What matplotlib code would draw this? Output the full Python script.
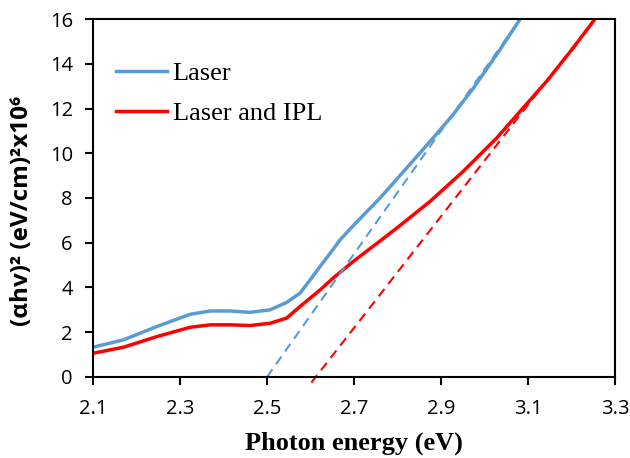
import matplotlib
matplotlib.use("Agg")
import matplotlib.pyplot as plt

# Laser (blue curve)
laser_x = [2.10, 2.17, 2.246, 2.323, 2.369, 2.415, 2.461, 2.507, 2.545, 2.576, 2.60, 2.622,
           2.65, 2.668, 2.70, 2.73, 2.76, 2.821, 2.875, 2.928, 2.974, 3.028, 3.082]
laser_y = [1.33, 1.66, 2.25, 2.80, 2.95, 2.95, 2.89, 3.00, 3.33, 3.75, 4.36, 4.94,
           5.65, 6.13, 6.80, 7.40, 8.00, 9.34, 10.53, 11.73, 12.90, 14.41, 16.0]

# Laser and IPL (red curve)
ipl_x = [2.10, 2.17, 2.246, 2.323, 2.369, 2.415, 2.461, 2.507, 2.545, 2.576, 2.622, 2.652,
         2.698, 2.76, 2.80, 2.875, 2.951, 3.028, 3.089, 3.143, 3.204, 3.254]
ipl_y = [1.06, 1.33, 1.80, 2.22, 2.33, 2.33, 2.30, 2.40, 2.63, 3.15, 3.89, 4.42,
         5.16, 6.08, 6.68, 7.85, 9.19, 10.68, 12.03, 13.22, 14.71, 16.0]

# linear fits (Tauc extrapolation)
laser_fit_x = [2.50, 3.082]
laser_fit_y = [0.0, 16.0]
ipl_fit_x = [2.602, 3.254]
ipl_fit_y = [-0.25, 16.0]

xticks = [2.1, 2.3, 2.5, 2.7, 2.9, 3.1, 3.3]
yticks = [0, 2, 4, 6, 8, 10, 12, 14, 16]

blue = "#5B9BD5"
red = "#FF0000"

fig = plt.figure(figsize=(6.3, 4.58), dpi=100)
ax = fig.add_axes([0.1476, 0.1769, 0.8286, 0.7816])

ax.plot(laser_x, laser_y, color=blue, lw=2.5, label="Laser")
ax.plot(ipl_x, ipl_y, color=red, lw=2.5, label="Laser and IPL")
ax.plot(laser_fit_x, laser_fit_y, color=blue, lw=1.5, dashes=(4.5, 3), clip_on=False)
ax.plot(ipl_fit_x, ipl_fit_y, color=red, lw=1.5, dashes=(4.5, 3), clip_on=False)

ax.set_xlim(2.1, 3.3)
ax.set_ylim(0, 16)
ax.set_xticks(xticks)
ax.set_xticklabels([f"{v:.1f}" for v in xticks])
ax.set_yticks(yticks)

for s in ax.spines.values():
    s.set_linewidth(1.5)
ax.tick_params(direction="out", length=5.5, width=1.5, labelsize=14.5)
ax.tick_params(axis="x", pad=10)
ax.tick_params(axis="y", pad=9)
for lab in ax.get_xticklabels() + ax.get_yticklabels():
    lab.set_family("Open Sans")

ax.set_xlabel("Photon energy (eV)", family="Liberation Serif", fontweight="bold", fontsize=19)
ax.xaxis.set_label_coords(0.5, -0.152)
ax.set_ylabel("(\u03b1hv)\u00b2 (eV/cm)\u00b2x10\u2076", family=["Open Sans", "DejaVu Sans"],
              fontweight="bold", fontsize=17.5)
ax.yaxis.set_label_coords(-0.113, 0.465)

leg = ax.legend(loc="upper left", bbox_to_anchor=(0.044, 0.88), frameon=False,
                prop={"family": "Liberation Serif", "size": 19},
                handlelength=1.95, handletextpad=0.2, labelspacing=0.6,
                borderpad=0, borderaxespad=0)

fig.savefig("out.png", dpi=100)
